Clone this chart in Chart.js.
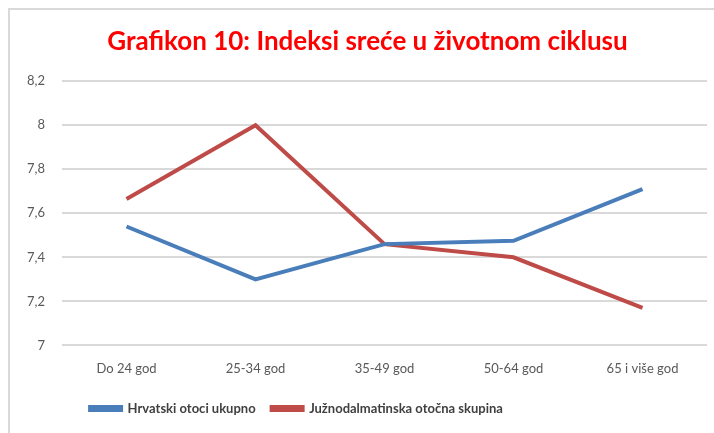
<!DOCTYPE html>
<html>
<head>
<meta charset="utf-8">
<script src="https://cdn.jsdelivr.net/npm/chart.js@4/dist/chart.umd.min.js"></script>
<style>
  html, body { margin: 0; padding: 0; background: #fff; }
  #okvir { position: absolute; left: 8px; top: 8px; width: 720px; height: 440px; border: 2px solid #d9d9d9; }
  #wrap { position: absolute; left: 0; top: 0; width: 714px; height: 433px; }
</style>
</head>
<body>
<div id="okvir"></div>
<div id="wrap"><canvas id="grafikon"></canvas></div>
<script>
// podaci
var kategorije = ["Do 24 god", "25-34 god", "35-49 god", "50-64 god", "65 i više god"];
var hrvatskiOtoci = [7.54, 7.30, 7.46, 7.475, 7.71];
var juznodalmatinska = [7.665, 8.00, 7.46, 7.40, 7.17];
var yTicks = [7, 7.2, 7.4, 7.6, 7.8, 8, 8.2];

var sivaBoja = "#595959";

// naslov i legenda nisu centrirani u originalu, pomak
var pomak = {
    id: 'pomak',
    afterLayout: function (chart) {
        chart.titleBlock.left += 14;
        chart.titleBlock.right += 14;
        chart.legend.left -= 57;
        chart.legend.right -= 57;
    }
};

var ctx = document.getElementById("grafikon").getContext('2d');
var grafikon = new Chart(ctx, {
    type: 'line',
    data: {
        labels: kategorije,
        datasets: [{
                label: "Hrvatski otoci ukupno",
                data: hrvatskiOtoci,
                borderColor: "#4a7ebb",
                backgroundColor: "#4a7ebb",
                borderWidth: 4,
                pointRadius: 0,
                tension: 0
            },
            {
                label: "Južnodalmatinska otočna skupina",
                data: juznodalmatinska,
                borderColor: "#be4b48",
                backgroundColor: "#be4b48",
                borderWidth: 4,
                pointRadius: 0,
                tension: 0
            }
        ]
    },
    plugins: [pomak],
    options: {
        responsive: true,
        maintainAspectRatio: false,
        animation: false,
        layout: { padding: { left: 0, right: 7, top: 0, bottom: 8 } },
        plugins: {
            title: {
                display: true,
                text: "Grafikon 10: Indeksi sreće u životnom ciklusu",
                color: "#ff0000",
                font: { family: "Lato", size: 26, weight: 'bold' },
                padding: { top: 26, bottom: 24 }
            },
            legend: {
                position: 'bottom',
                labels: {
                    color: "#404040",
                    font: { family: "Lato", size: 13, weight: 'bold' },
                    boxWidth: 31,
                    boxHeight: 3,
                    padding: 16
                }
            },
            tooltip: { enabled: false }
        },
        scales: {
            x: {
                offset: true,
                grid: { display: false, drawTicks: false },
                border: { display: false },
                afterFit: function (axis) { axis.height -= 7; },
                ticks: {
                    color: sivaBoja,
                    font: { family: "Lato", size: 13 },
                    padding: 16
                }
            },
            y: {
                min: 7,
                max: 8.2,
                afterBuildTicks: function (axis) {
                    axis.ticks = yTicks.map(function (v) { return { value: v }; });
                },
                afterFit: function (axis) { axis.width = 62; },
                grid: { color: "#d9d9d9", lineWidth: 2, drawTicks: false },
                border: { display: false },
                ticks: {
                    color: sivaBoja,
                    font: { family: "Lato", size: 13 },
                    padding: 17,
                    callback: function (v) { return String(v).replace(".", ","); }
                }
            }
        }
    }
});
</script>
</body>
</html>
